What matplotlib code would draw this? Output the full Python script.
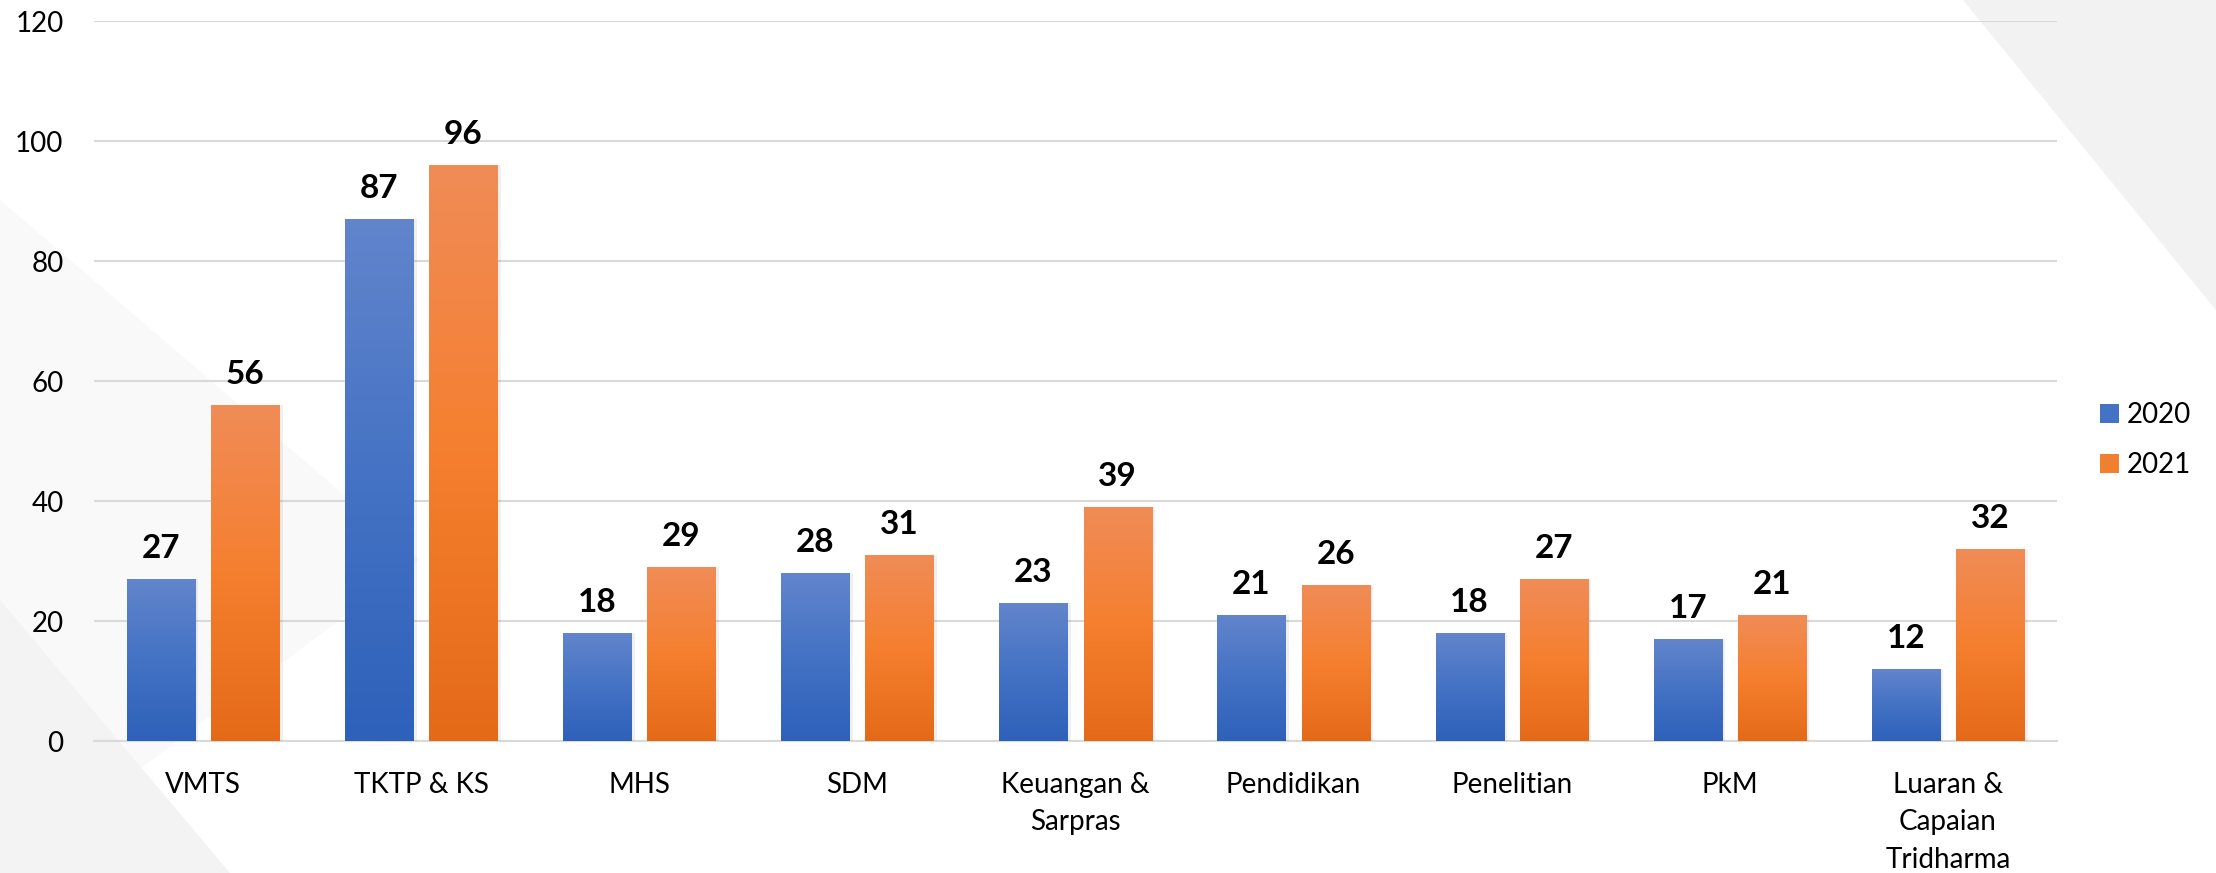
# grafik perbandingan 2020 vs 2021 per kriteria

import matplotlib.pyplot as plt
import numpy as np
from matplotlib.colors import LinearSegmentedColormap
from matplotlib.patches import Polygon

# data
kriteria = ['VMTS', 'TKTP & KS', 'MHS', 'SDM', 'Keuangan &\nSarpras', 'Pendidikan',
            'Penelitian', 'PkM', 'Luaran &\nCapaian\nTridharma']
nilai_2020 = [27, 87, 18, 28, 23, 21, 18, 17, 12]
nilai_2021 = [56, 96, 29, 31, 39, 26, 27, 21, 32]
tahun = ['2020', '2021']

plt.rcParams['font.family'] = ['Lato', 'DejaVu Sans']

W, H = 2216, 873
fig = plt.figure(figsize=(W / 100, H / 100), dpi=100)

# latar belakang (segitiga abu-abu tipis)
bg = fig.add_axes([0, 0, 1, 1], zorder=-10)
bg.set_xlim(0, W)
bg.set_ylim(H, 0)
bg.axis('off')
bg.add_patch(Polygon([(1963, 0), (W, 0), (W, 310)], closed=True, color='#f2f2f2', lw=0))
bg.add_patch(Polygon([(0, 200), (420, 560), (0, 873)], closed=True, color='#f9f9f9', lw=0))
bg.add_patch(Polygon([(0, 600), (230, 873), (0, 873)], closed=True, color='#f3f3f3', lw=0))

ax = fig.add_axes([94 / W, 1 - 741 / H, (2057 - 94) / W, (741 - 21) / H])
ax.patch.set_alpha(0)

x = np.arange(len(kriteria))
sirka = 0.312
posun = 0.193

modra = LinearSegmentedColormap.from_list('modra', ['#2e61ba', '#4472c4', '#6285cc'])
oranz = LinearSegmentedColormap.from_list('oranz', ['#e46a18', '#f57f2f', '#f08c57'])

bary1 = ax.bar(x - posun, nilai_2020, sirka, color='#4472c4', label=tahun[0], zorder=3)
bary2 = ax.bar(x + posun, nilai_2021, sirka, color='#f07f2f', label=tahun[1], zorder=3)

grad = np.linspace(0, 1, 256).reshape(-1, 1)
for bary, cm in [(bary1, modra), (bary2, oranz)]:
    for b in bary:
        x0 = b.get_x()
        x1 = x0 + b.get_width()
        h = b.get_height()
        # jemny stin vpravo
        ax.bar(x1 + 0.004, h, 0.012, align='edge', color='#000000', alpha=0.06, zorder=2)
        im = ax.imshow(grad, extent=[x0, x1, 0, h], origin='lower', aspect='auto',
                       cmap=cm, zorder=4)
        im.set_clip_path(b)
        ax.annotate(str(int(h)), (x0 + b.get_width() / 2, h), xytext=(0, 15),
                    textcoords='offset points', ha='center', va='baseline',
                    fontsize=24, fontweight='bold', color='black', zorder=5)

ax.set_xlim(-0.5, len(kriteria) - 0.5)
ax.set_ylim(0, 120)
ax.set_yticks(range(0, 121, 20))
ax.set_xticks(x)
ax.set_xticklabels(kriteria, linespacing=1.55)
ax.tick_params(axis='y', length=0, pad=22, labelsize=20)
ax.tick_params(axis='x', length=0, pad=22, labelsize=20)
ax.grid(axis='y', color='#d9d9d9', lw=1.5, zorder=0)
for s in ['top', 'right', 'left']:
    ax.spines[s].set_visible(False)
ax.spines['bottom'].set_color('#d9d9d9')
ax.spines['bottom'].set_linewidth(1.5)
ax.spines['bottom'].set_zorder(1)

fig.legend(handles=[bary1, bary2], labels=tahun, loc='center left',
           bbox_to_anchor=(2100 / W, 1 - 440 / H), frameon=False, fontsize=20,
           handlelength=0.68, handleheight=0.68, handletextpad=0.3,
           labelspacing=0.85, borderpad=0, borderaxespad=0)

fig.savefig('out.png', dpi=100)
